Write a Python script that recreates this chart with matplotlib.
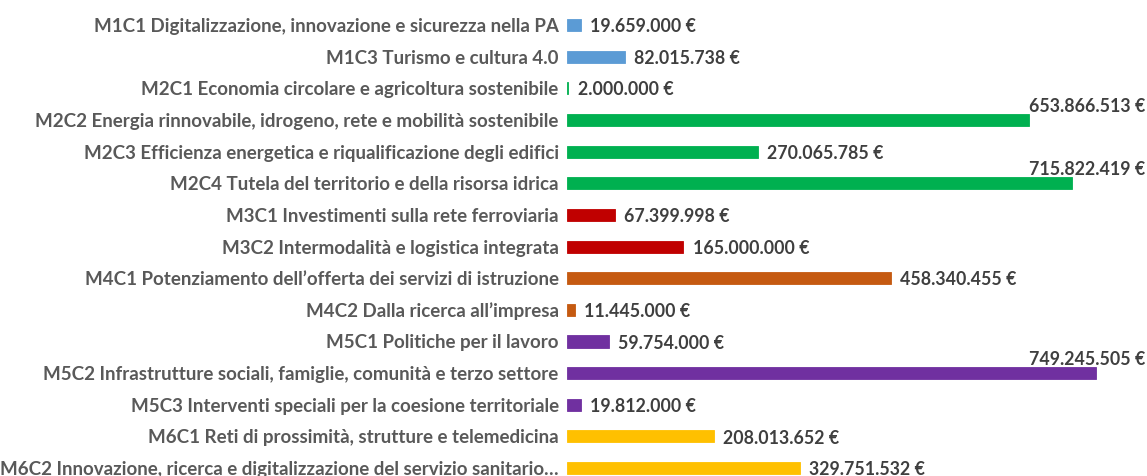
import matplotlib.pyplot as plt

categories = [
    "M1C1 Digitalizzazione, innovazione e sicurezza nella PA",
    "M1C3 Turismo e cultura 4.0",
    "M2C1 Economia circolare e agricoltura sostenibile",
    "M2C2 Energia rinnovabile, idrogeno, rete e mobilità sostenibile",
    "M2C3 Efficienza energetica e riqualificazione degli edifici",
    "M2C4 Tutela del territorio e della risorsa idrica",
    "M3C1 Investimenti sulla rete ferroviaria",
    "M3C2 Intermodalità e logistica integrata",
    "M4C1 Potenziamento dell’offerta dei servizi di istruzione",
    "M4C2 Dalla ricerca all’impresa",
    "M5C1 Politiche per il lavoro",
    "M5C2 Infrastrutture sociali, famiglie, comunità e terzo settore",
    "M5C3 Interventi speciali per la coesione territoriale",
    "M6C1 Reti di prossimità, strutture e telemedicina",
    "M6C2 Innovazione, ricerca e digitalizzazione del servizio sanitario…",
]
values = [19659000, 82015738, 2000000, 653866513, 270065785, 715822419,
          67399998, 165000000, 458340455, 11445000, 59754000, 749245505,
          19812000, 208013652, 329751532]
missions = ["M1", "M1", "M2", "M2", "M2", "M2", "M3", "M3", "M4", "M4",
            "M5", "M5", "M5", "M6", "M6"]
mission_colors = {"M1": "#5B9BD5", "M2": "#00B050", "M3": "#C00000",
                  "M4": "#C55A11", "M5": "#7030A0", "M6": "#FFC000"}

plt.rcParams['font.family'] = ['Lato', 'DejaVu Sans']

def fmt_euro(v):
    return f"{v:,}".replace(",", ".") + " €"

fig = plt.figure(figsize=(11.47, 4.76), dpi=100)
ax = fig.add_axes([567 / 1147, 0, 580 / 1147, 1])

ypos = list(range(len(categories)))
colors = [mission_colors[m] for m in missions]
ax.barh(ypos, values, height=0.38, color=colors, edgecolor=colors, linewidth=0.6)

xmax = 821.5e6
ax.set_xlim(0, xmax)
ax.set_ylim(14.25, -0.79)

# long bars get their label above the bar, others at the bar end
for y, v in zip(ypos, values):
    if v > 600e6:
        ax.text(xmax * 0.997, y - 0.44, fmt_euro(v), ha='right', va='center',
                fontsize=12.8, fontweight='bold', color='#3F3F3F')
    else:
        ax.text(v + 13e6, y + 0.05, fmt_euro(v), ha='left', va='center',
                fontsize=12.8, fontweight='bold', color='#3F3F3F')

ax.set_yticks(ypos)
ax.set_yticklabels(categories, fontsize=13.5, fontweight='bold', color='#595959')
ax.tick_params(axis='y', length=0, pad=6)
ax.set_xticks([])
for s in ax.spines.values():
    s.set_visible(False)

fig.savefig("out.png", dpi=100)
